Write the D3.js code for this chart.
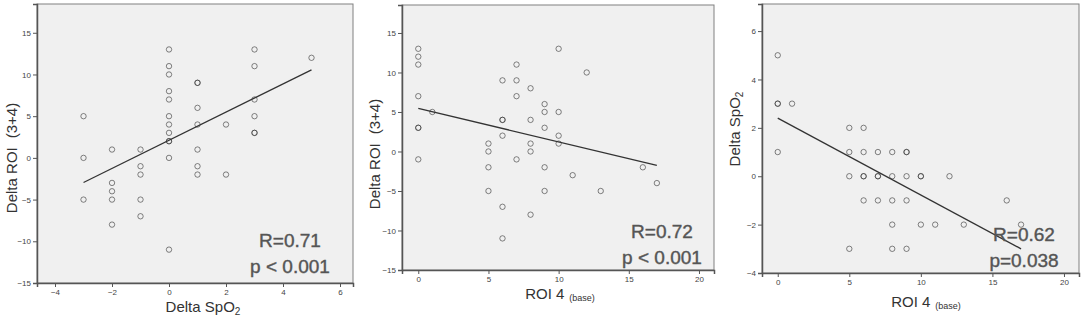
<!DOCTYPE html>
<html lang="en">
<head>
<meta charset="UTF-8">
<title>Scatter plots</title>
<style>
    body{
        margin:0;
        background:#fff;
    }
    svg text{
        font-family: "Liberation Sans", Arial, sans-serif;
    }
</style>
<script src="https://cdn.jsdelivr.net/npm/d3@7"></script>
</head>
<body>
<div id="container"></div>
<script>

// panel 1: Delta SpO2 vs Delta ROI (3+4)
var spo2Roi = [
    [-3,5],[-3,0],[-3,-5],
    [-2,1],[-2,-3],[-2,-4],[-2,-5],[-2,-8],
    [-1,1],[-1,-1],[-1,-2],[-1,-5],[-1,-7],
    [0,13],[0,11],[0,10],[0,8],[0,7],[0,5],[0,4],[0,3],[0,2],[0,2],[0,0],[0,-11],
    [1,9],[1,9],[1,6],[1,4],[1,1],[1,-1],[1,-2],
    [2,4],[2,-2],
    [3,13],[3,11],[3,7],[3,5],[3,3],[3,3],
    [5,12]
];
var fitSpo2Roi = [[-3,-2.95],[5,10.55]];

// panel 2: ROI 4 (base) vs Delta ROI (3+4)
var baseRoi = [
    [0,13],[0,12],[0,11],[0,7],[0,3],[0,3],[0,-1],
    [1,5],
    [5,1],[5,0],[5,-2],[5,-5],
    [6,9],[6,4],[6,4],[6,2],[6,-7],[6,-11],
    [7,11],[7,9],[7,7],[7,-1],
    [8,8],[8,4],[8,1],[8,0],[8,-8],
    [9,6],[9,5],[9,3],[9,-2],[9,-5],
    [10,13],[10,5],[10,2],[10,1],
    [11,-3],[12,10],[13,-5],[16,-2],[17,-4]
];
var fitBaseRoi = [[0,5.45],[17,-1.75]];

// panel 3: ROI 4 (base) vs Delta SpO2
var baseSpo2 = [
    [0,5],[0,3],[0,3],[0,1],
    [1,3],
    [5,2],[5,1],[5,0],[5,-3],
    [6,2],[6,1],[6,0],[6,0],[6,-1],
    [7,1],[7,0],[7,0],[7,-1],
    [8,1],[8,0],[8,-1],[8,-2],[8,-3],
    [9,1],[9,1],[9,0],[9,-1],[9,-3],
    [10,0],[10,0],[10,-2],
    [11,-2],[12,0],[13,-2],[16,-1],[17,-2]
];
var fitBaseSpo2 = [[0,2.4],[17,-3.0]];

var roiTicks = [-15,-10,-5,0,5,10,15];
var spo2XTicks = [-4,-2,0,2,4,6];
var baseTicks = [0,5,10,15,20];
var spo2YTicks = [-4,-2,0,2,4,6];

var w = 1084, h = 320;

var svg = d3.select("#container")
    .append("svg")
    .attr("width", w)
    .attr("height", h);

var panels = [
    {
        pts: spo2Roi, fit: fitSpo2Roi,
        box: {l:37, t:4, r:353, b:283},
        xd: [-4.632, 6.456], yd: [-15, 18.45],
        xt: spo2XTicks, yt: roiTicks,
        xlab: {x:203, y:312, kind:"spo2"},
        ylab: {x:17, y:158, kind:"roi"},
        ann: {x:290, y1:247, y2:273, l1:"R=0.71", l2:"p < 0.001"}
    },
    {
        pts: baseRoi, fit: fitBaseRoi,
        box: {l:402, t:5, r:714, b:270},
        xd: [-1.16, 21.07], yd: [-15, 18.54],
        xt: baseTicks, yt: roiTicks,
        xlab: {x:560, y:299, kind:"base"},
        ylab: {x:380, y:154, kind:"roi"},
        ann: {x:662, y1:238, y2:264, l1:"R=0.72", l2:"p < 0.001"}
    },
    {
        pts: baseSpo2, fit: fitBaseSpo2,
        box: {l:762, t:4, r:1079, b:273},
        xd: [-1.10, 21.05], yd: [-4, 7.12],
        xt: baseTicks, yt: spo2YTicks,
        xlab: {x:926, y:307, kind:"base"},
        ylab: {x:740, y:129, kind:"spo2"},
        ann: {x:1024, y1:241, y2:267, l1:"R=0.62", l2:"p=0.038"}
    }
];

function label(g, kind) {
    if (kind === "spo2") {
        g.text("Delta SpO");
        g.append("tspan").attr("font-size", "10px").attr("dy", 3).text("2");
    } else if (kind === "roi") {
        g.text("Delta ROI");
        g.append("tspan").attr("dx", 9).text("(3+4)");
    } else {
        g.text("ROI 4");
        g.append("tspan").attr("font-size", "9px").attr("dx", 5).attr("dy", 2).text("(base)");
    }
}

panels.forEach(function(p) {
    var b = p.box;
    var x = d3.scaleLinear().domain(p.xd).range([b.l, b.r]);
    var y = d3.scaleLinear().domain(p.yd).range([b.b, b.t]);

    var g = svg.append("g");

    g.append("rect")
        .attr("x", b.l).attr("y", b.t)
        .attr("width", b.r - b.l).attr("height", b.b - b.t)
        .attr("fill", "#f0f0f0")
        .attr("stroke", "#808080")
        .attr("stroke-width", 1);

    var xAxis = g.append("g")
        .attr("transform", "translate(0," + b.b + ")")
        .call(d3.axisBottom(x).tickValues(p.xt).tickSize(4).tickPadding(2));
    var yAxis = g.append("g")
        .attr("transform", "translate(" + b.l + ",0)")
        .call(d3.axisLeft(y).tickValues(p.yt).tickSize(4).tickPadding(2));

    [xAxis, yAxis].forEach(function(a) {
        a.select(".domain").attr("stroke", "#555").attr("stroke-width", 1.5);
        a.selectAll(".tick line").attr("stroke", "#555");
        a.selectAll(".tick text")
            .attr("fill", "#444")
            .attr("font-size", "8px")
            .attr("font-family", "Liberation Sans, Arial, sans-serif");
    });

    var line = d3.line()
        .x(function(d) { return x(d[0]); })
        .y(function(d) { return y(d[1]); });

    g.append("path")
        .datum(p.fit)
        .attr("d", line)
        .attr("fill", "none")
        .attr("stroke", "#333")
        .attr("stroke-width", 1.3);

    g.selectAll("circle")
        .data(p.pts)
        .enter()
        .append("circle")
        .attr("cx", function(d) { return x(d[0]); })
        .attr("cy", function(d) { return y(d[1]); })
        .attr("r", 2.7)
        .attr("fill", "none")
        .attr("stroke", "#333")
        .attr("stroke-opacity", 0.6)
        .attr("stroke-width", 1);

    // axis titles
    g.append("text")
        .attr("x", p.xlab.x).attr("y", p.xlab.y)
        .attr("text-anchor", "middle")
        .attr("font-size", "15px")
        .attr("fill", "#333")
        .call(label, p.xlab.kind);

    g.append("text")
        .attr("transform", "translate(" + p.ylab.x + "," + p.ylab.y + ") rotate(-90)")
        .attr("text-anchor", "middle")
        .attr("font-size", "15px")
        .attr("fill", "#333")
        .call(label, p.ylab.kind);

    // R / p annotation
    [[p.ann.y1, p.ann.l1], [p.ann.y2, p.ann.l2]].forEach(function(a) {
        g.append("text")
            .attr("x", p.ann.x).attr("y", a[0])
            .attr("text-anchor", "middle")
            .attr("font-size", "19px")
            .attr("fill", "#555")
            .attr("stroke", "#555")
            .attr("stroke-width", 0.4)
            .text(a[1]);
    });
});

</script>
</body>
</html>
